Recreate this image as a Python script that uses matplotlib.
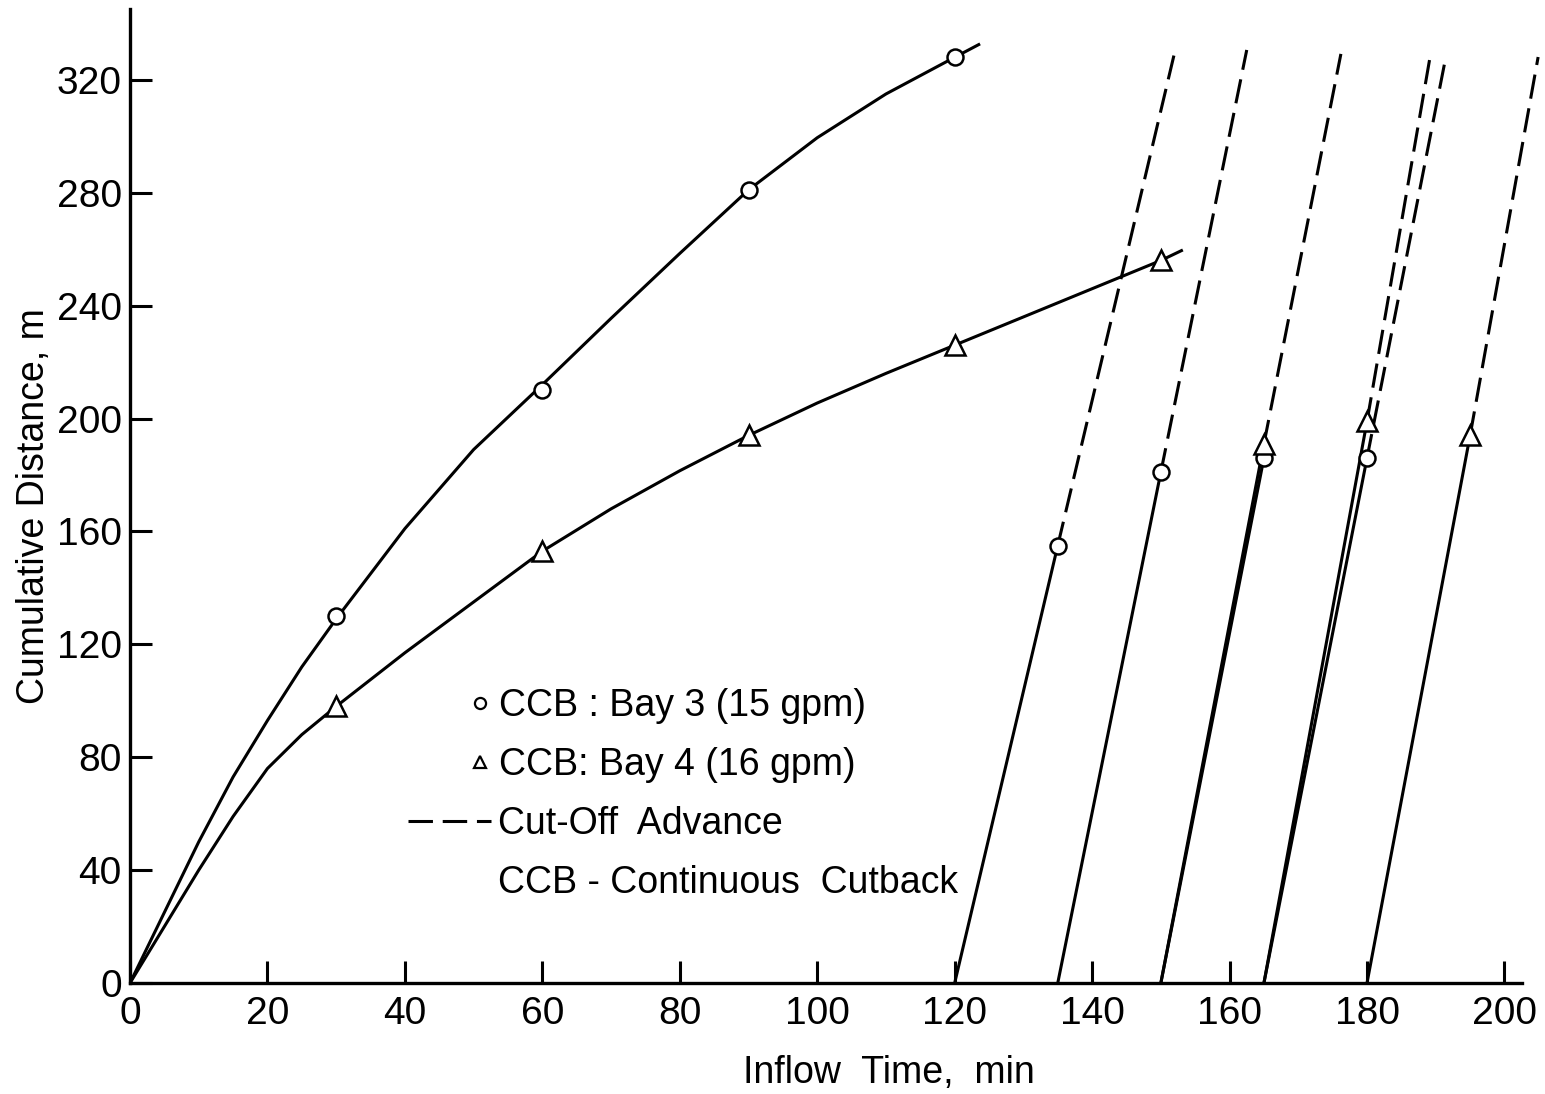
import numpy as np
import matplotlib.pyplot as plt
from matplotlib.lines import Line2D

# %% DATA

# CCB Bay 3 (15 gpm): measured points + traced advance curve
t_bay3   = [30, 60, 90, 120]
x_bay3   = [130, 210, 281, 328]
t_bay3_c = [0, 5, 10, 15, 20, 25, 30, 40, 50, 60, 70, 80, 90, 100, 110, 120, 123.5]
x_bay3_c = [0, 25, 50, 73, 93, 112, 129, 161, 189, 212, 235.5, 258.5, 281, 299.5, 315, 328, 332.5]

# CCB Bay 4 (16 gpm)
t_bay4   = [30, 60, 90, 120, 150]
x_bay4   = [98, 153, 194, 226, 256]
t_bay4_c = [0, 5, 10, 15, 20, 25, 30, 40, 50, 60, 70, 80, 90, 100, 110, 120, 135, 150, 153]
x_bay4_c = [0, 20, 40, 59, 76, 88, 98, 117, 135, 153, 168, 181.5, 194, 205.5, 216, 226, 241, 256, 259.5]

# Cut-off advance (solid part): start time at x=0, time and distance at marker
co3_t0 = [120, 135, 150, 165]
co3_t1 = [135, 150, 165, 180]
co3_x1 = [155, 181, 186, 186]
co4_t0 = [150, 165, 180]
co4_t1 = [165, 180, 195]
co4_x1 = [191, 199, 194]

# Cut-off advance (dashed part): from marker up to end point
dash3_t0 = [135, 150, 180]
dash3_x0 = [155, 181, 186]
dash3_t1 = [152.2, 162.5, 191.5]
dash3_x1 = [331.7, 330.6, 328.5]
dash4_t0 = [165, 180, 195]
dash4_x0 = [191, 199, 194]
dash4_t1 = [176.2, 189.2, 204.9]
dash4_x1 = [329.2, 328.5, 328.1]

xticks = np.arange(0, 201, 20)
yticks = np.arange(0, 321, 40)

# %% PLOT

plt.rcParams['font.family'] = ['Liberation Sans', 'DejaVu Sans']
fs = 27
lw = 2.2
dash = (8, 3.2)

fig = plt.figure(figsize=(15.45, 10.94), dpi=100)
ax = fig.add_axes([130/1545, 111/1094, 1415/1545, 983/1094])

# advance curves
ax.plot(t_bay3_c, x_bay3_c, 'k-', lw=lw)
ax.plot(t_bay4_c, x_bay4_c, 'k-', lw=lw)

# cut-off advance lines
for a, b, c in zip(co3_t0, co3_t1, co3_x1):
    ax.plot([a, b], [0, c], 'k-', lw=lw, clip_on=False)
for a, b, c in zip(co4_t0, co4_t1, co4_x1):
    ax.plot([a, b], [0, c], 'k-', lw=lw, clip_on=False)
for a, b, c, d in zip(dash3_t0, dash3_x0, dash3_t1, dash3_x1):
    ax.plot([a, c], [b, d], 'k-', lw=lw, dashes=dash, clip_on=False)
for a, b, c, d in zip(dash4_t0, dash4_x0, dash4_t1, dash4_x1):
    ax.plot([a, c], [b, d], 'k-', lw=lw, dashes=dash, clip_on=False)

# markers
mk = dict(mfc='white', mec='k', mew=1.8, ls='none', zorder=5, clip_on=False)
ax.plot(t_bay3, x_bay3, 'o', ms=11.5, **mk)
ax.plot(co3_t1, co3_x1, 'o', ms=11.5, **mk)
ax.plot(t_bay4, x_bay4, '^', ms=14, **mk)
ax.plot(co4_t1, co4_x1, '^', ms=14, **mk)

# axes
ax.set_xlim(0, 205.9)
ax.set_ylim(0, 348.3)
ax.spines['top'].set_visible(False)
ax.spines['right'].set_visible(False)
ax.spines['left'].set_linewidth(2.4)
ax.spines['bottom'].set_linewidth(2.4)
ax.spines['left'].set_bounds(0, 345)
ax.spines['bottom'].set_bounds(0, 202.5)
ax.set_xticks(xticks)
ax.set_yticks(yticks)
ax.tick_params(axis='both', direction='in', length=16, width=2.2, labelsize=28)
ax.tick_params(axis='x', pad=9)
ax.tick_params(axis='y', pad=6)
ax.set_xlabel('Inflow  Time,  min', fontsize=fs)
ax.xaxis.set_label_coords(0.536, -0.073)
ax.set_ylabel('Cumulative Distance, m', fontsize=fs)
ax.yaxis.set_label_coords(-0.055, 0.485)

# legend: marker entries and line entries as two blocks with aligned text
h_mk = [Line2D([], [], marker='o', ls='none', mfc='white', mec='k', mew=1.6, ms=8),
        Line2D([], [], marker='^', ls='none', mfc='white', mec='k', mew=1.6, ms=9)]
leg1 = ax.legend(h_mk, ['CCB : Bay 3 (15 gpm)', 'CCB: Bay 4 (16 gpm)'],
                 loc='upper left', bbox_to_anchor=(0.2396, 0.3), frameon=False,
                 fontsize=fs, handlelength=0.6, handletextpad=0.2,
                 labelspacing=0.62, borderpad=0, borderaxespad=0)
ax.add_artist(leg1)
h_ln = [Line2D([], [], color='k', lw=lw, dashes=dash),
        Line2D([], [], ls='none')]
ax.legend(h_ln, ['Cut-Off  Advance', 'CCB - Continuous  Cutback'],
          loc='upper left', bbox_to_anchor=(0.1965, 0.18), frameon=False,
          fontsize=fs, handlelength=2.2, handletextpad=0.2,
          labelspacing=0.62, borderpad=0, borderaxespad=0)

fig.savefig('out.png', dpi=100)
